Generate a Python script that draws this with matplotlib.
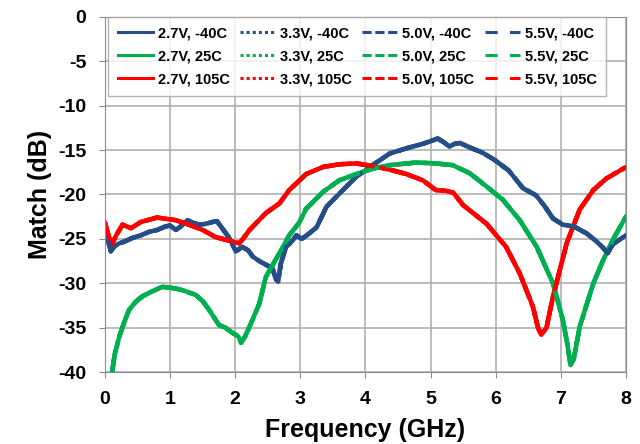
import matplotlib.pyplot as plt

plt.rcParams['font.family'] = ['Liberation Sans', 'DejaVu Sans']
plt.rcParams['font.weight'] = 'bold'
plt.rcParams['axes.unicode_minus'] = False

# Match curves (the four supply voltages overlap per temperature)
freq_m40 = [0, 0.05, 0.09, 0.15, 0.22, 0.3, 0.42, 0.55, 0.68, 0.8, 0.93, 1.0, 1.09, 1.18,
            1.27, 1.35, 1.45, 1.55, 1.65, 1.72, 1.8, 1.9, 2.01, 2.11, 2.2, 2.27, 2.37, 2.47,
            2.57, 2.63, 2.66, 2.7, 2.78, 2.83, 2.9, 2.94, 3.02, 3.1, 3.25, 3.4, 3.6, 3.86,
            4.11, 4.37, 4.63, 4.88, 5.0, 5.11, 5.2, 5.29, 5.37, 5.45, 5.6, 5.8, 5.98, 6.2,
            6.42, 6.62, 6.75, 6.88, 7.03, 7.2, 7.4, 7.55, 7.65, 7.72, 7.8, 7.9, 8.0]
match_m40 = [-24.0, -25.3, -26.4, -25.8, -25.5, -25.3, -24.9, -24.6, -24.2, -24.0, -23.6,
             -23.5, -24.0, -23.5, -22.9, -23.2, -23.4, -23.3, -23.1, -23.0, -23.8, -24.8,
             -26.4, -25.9, -26.3, -27.0, -27.5, -27.9, -28.3, -29.6, -29.8, -27.8, -25.9,
             -25.6, -25.0, -24.6, -25.0, -24.6, -23.7, -21.4, -19.9, -18.0, -16.7, -15.4,
             -14.8, -14.3, -14.0, -13.7, -14.1, -14.6, -14.3, -14.2, -14.7, -15.3, -16.1,
             -17.3, -19.3, -20.1, -21.3, -22.7, -23.4, -23.6, -24.4, -25.3, -26.0, -26.6,
             -25.6, -25.1, -24.6]

freq_25 = [0.11, 0.15, 0.22, 0.3, 0.37, 0.47, 0.57, 0.7, 0.88, 1.0, 1.09, 1.2, 1.39, 1.5,
           1.6, 1.75, 1.85, 1.96, 2.05, 2.09, 2.15, 2.22, 2.37, 2.47, 2.57, 2.68, 2.83, 2.98,
           3.09, 3.35, 3.6, 3.86, 4.11, 4.37, 4.78, 5.08, 5.34, 5.6, 5.86, 6.11, 6.37, 6.63,
           6.88, 7.03, 7.1, 7.15, 7.2, 7.29, 7.5, 7.65, 7.8, 8.0]
match_25 = [-40.0, -38.0, -36.0, -34.3, -33.0, -32.1, -31.5, -31.0, -30.4, -30.5, -30.6,
            -30.8, -31.3, -32.0, -33.0, -34.7, -35.0, -35.6, -36.0, -36.7, -36.0, -34.9,
            -32.3, -29.3, -28.0, -26.6, -24.6, -23.2, -21.6, -19.7, -18.4, -17.7, -17.1,
            -16.7, -16.4, -16.5, -16.7, -17.6, -19.1, -20.6, -22.9, -25.9, -30.0, -34.1,
            -36.8, -39.2, -38.5, -34.9, -30.0, -27.4, -25.1, -22.5]

freq_105 = [0.0, 0.05, 0.1, 0.18, 0.27, 0.4, 0.55, 0.8, 1.09, 1.29, 1.5, 1.7, 1.96, 2.06,
            2.12, 2.22, 2.47, 2.68, 2.83, 3.09, 3.35, 3.6, 3.86, 4.11, 4.37, 4.63, 4.88,
            5.08, 5.24, 5.35, 5.5, 5.86, 6.16, 6.37, 6.57, 6.65, 6.7, 6.78, 6.88, 7.09,
            7.29, 7.5, 7.7, 7.98]
match_105 = [-23.2, -24.5, -25.7, -24.5, -23.4, -23.8, -23.1, -22.6, -22.9, -23.4, -24.0,
             -24.8, -25.3, -25.5, -25.0, -24.0, -22.1, -21.0, -19.5, -17.7, -16.9, -16.6,
             -16.5, -16.8, -17.2, -17.7, -18.4, -19.5, -19.6, -19.8, -21.2, -23.3, -25.9,
             -28.9, -32.6, -35.0, -35.8, -35.0, -31.5, -25.5, -21.7, -19.5, -18.2, -17.0]

voltages = ['2.7V', '3.3V', '5.0V', '5.5V']
temps = ['-40C', '25C', '105C']
temp_data = {'-40C': (freq_m40, match_m40),
             '25C': (freq_25, match_25),
             '105C': (freq_105, match_105)}
temp_colors = {'-40C': '#254e88', '25C': '#00b050', '105C': '#ff0000'}
volt_styles = {'2.7V': '-', '3.3V': (0, (1, 1)), '5.0V': (0, (3, 1.2)), '5.5V': (0, (4, 4))}

fig = plt.figure(figsize=(6.4, 4.44), dpi=100)
ax = fig.add_axes([0.164, 0.162, 0.814, 0.800])

for v in voltages:
    for t in temps:
        f, m = temp_data[t]
        ax.plot(f, m, color=temp_colors[t], linestyle=volt_styles[v], linewidth=3.2,
                label=f'{v}, {t}')

ax.set_xlim(0, 8)
ax.set_ylim(-40, 0)
ax.set_xticks(range(0, 9))
ax.set_yticks(range(-40, 1, 5))
ax.grid(True, color='#b0b0b0', linewidth=1.2)
ax.set_axisbelow(True)
for s in ax.spines.values():
    s.set_color('#8c8c8c')
ax.tick_params(colors='#8c8c8c', labelcolor='black', labelsize=14, length=4.5)
ax.tick_params(axis='y', pad=9)
ax.tick_params(axis='x', pad=9)
for lab in ax.get_xticklabels() + ax.get_yticklabels():
    lab.set_fontweight('bold')

ax.set_xlabel('Frequency (GHz)', fontsize=18, fontweight='bold', labelpad=7)
ax.set_ylabel('Match (dB)', fontsize=18, fontweight='bold', labelpad=4)

leg = ax.legend(ncol=4, loc='upper left', bbox_to_anchor=(0.006, 1.0),
                fontsize=10.5, frameon=True, fancybox=False,
                handlelength=2.4, handletextpad=0.35, labelspacing=0.62,
                borderaxespad=0.0, borderpad=0.65, columnspacing=0.7)
leg.get_frame().set_edgecolor('#a0a0a0')
leg.get_frame().set_linewidth(1.0)
for h in leg.legend_handles:
    h.set_linewidth(2.2)
for txt in leg.get_texts():
    txt.set_fontweight('bold')

fig.savefig('out.png', dpi=100)
